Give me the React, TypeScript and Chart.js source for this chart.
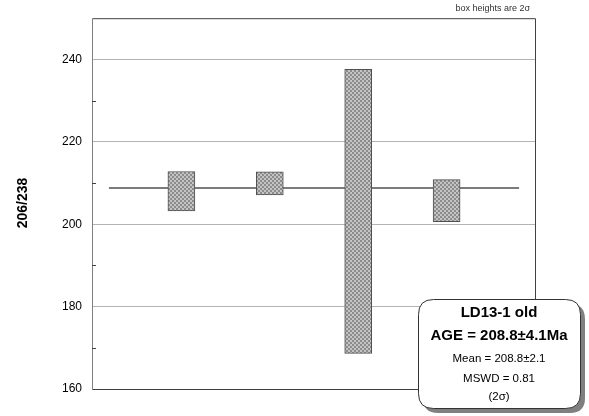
import React, { useEffect, useRef } from "react";
import { Chart, registerables } from "chart.js";

Chart.register(...registerables);

const positions = [1, 2, 3, 4];
const boxLow = [203.25, 207.1, 168.65, 200.6];
const boxHigh = [212.8, 212.7, 237.6, 210.8];
const meanValue = 208.8;
const meanLineX = [0.18, 4.82];
const yMajorTicks = [160, 180, 200, 220, 240];
const yMinorTicks = [170, 190, 210, 230];
const yMin = 160;
const yMax = 250;
const yTitle = "206/238";
const noteText = "box heights are 2σ";
const infoLines = ["LD13-1 old", "AGE = 208.8±4.1Ma", "Mean = 208.8±2.1", "MSWD = 0.81", "(2σ)"];

function makePattern(): CanvasPattern | string {
  const c = document.createElement("canvas");
  c.width = 4;
  c.height = 4;
  const g = c.getContext("2d");
  if (!g) return "#a8a8a8";
  g.fillStyle = "#c4c4c4";
  g.fillRect(0, 0, 4, 4);
  g.fillStyle = "#8c8c8c";
  g.fillRect(0, 0, 2, 2);
  g.fillRect(2, 2, 2, 2);
  const p = g.createPattern(c, "repeat");
  return p || "#a8a8a8";
}

const decorPlugin = {
  id: "decor",
  beforeDatasetsDraw(chart: any) {
    const { ctx, chartArea } = chart;
    const y = chart.scales.y;
    ctx.save();
    ctx.strokeStyle = "#404040";
    ctx.lineWidth = 1;
    ctx.beginPath();
    ctx.moveTo(chartArea.left, chartArea.top + 0.5);
    ctx.lineTo(chartArea.right + 0.5, chartArea.top + 0.5);
    ctx.lineTo(chartArea.right + 0.5, chartArea.bottom);
    ctx.stroke();
    ctx.beginPath();
    ctx.moveTo(chartArea.left, chartArea.bottom + 0.5);
    ctx.lineTo(chartArea.right + 0.5, chartArea.bottom + 0.5);
    ctx.stroke();
    ctx.strokeStyle = "#808080";
    ctx.beginPath();
    ctx.moveTo(chartArea.left - 0.5, chartArea.top);
    ctx.lineTo(chartArea.left - 0.5, chartArea.bottom + 1);
    ctx.stroke();
    ctx.strokeStyle = "#404040";
    yMinorTicks.forEach((v) => {
      const py = Math.round(y.getPixelForValue(v)) + 0.5;
      ctx.beginPath();
      ctx.moveTo(chartArea.left - 1, py);
      ctx.lineTo(chartArea.left + 3, py);
      ctx.stroke();
    });
    ctx.restore();
  },
  afterDraw(chart: any) {
    const { ctx, chartArea } = chart;
    ctx.save();
    ctx.fillStyle = "#000";
    ctx.font = "bold 14px 'Liberation Sans', Arial, sans-serif";
    ctx.textAlign = "center";
    ctx.textBaseline = "middle";
    ctx.translate(23, 203);
    ctx.rotate(-Math.PI / 2);
    ctx.fillText(yTitle, 0, 0);
    ctx.restore();

    ctx.save();
    ctx.fillStyle = "#333";
    ctx.font = "9px 'Liberation Sans', Arial, sans-serif";
    ctx.textAlign = "right";
    ctx.textBaseline = "middle";
    ctx.fillText(noteText, chartArea.right - 5, 9);
    ctx.restore();

    const bx = 418, by = 299, bw = 162, bh = 109, r = 15;
    ctx.save();
    const rr = (x: number, yy: number) => {
      ctx.beginPath();
      ctx.moveTo(x + r, yy);
      ctx.lineTo(x + bw - r, yy);
      ctx.quadraticCurveTo(x + bw, yy, x + bw, yy + r);
      ctx.lineTo(x + bw, yy + bh - r);
      ctx.quadraticCurveTo(x + bw, yy + bh, x + bw - r, yy + bh);
      ctx.lineTo(x + r, yy + bh);
      ctx.quadraticCurveTo(x, yy + bh, x, yy + bh - r);
      ctx.lineTo(x, yy + r);
      ctx.quadraticCurveTo(x, yy, x + r, yy);
      ctx.closePath();
    };
    ctx.fillStyle = "#808080";
    rr(bx + 5, by + 5);
    ctx.fill();
    ctx.fillStyle = "#ffffff";
    rr(bx + 0.5, by + 0.5);
    ctx.fill();
    ctx.strokeStyle = "#333";
    ctx.lineWidth = 1;
    ctx.stroke();
    const cx = bx + bw / 2;
    ctx.fillStyle = "#000";
    ctx.textAlign = "center";
    ctx.textBaseline = "middle";
    ctx.font = "bold 15px 'Liberation Sans', Arial, sans-serif";
    ctx.fillText(infoLines[0], cx, 313);
    ctx.fillText(infoLines[1], cx, 336);
    ctx.font = "11.5px 'Liberation Sans', Arial, sans-serif";
    ctx.fillText(infoLines[2], cx, 359);
    ctx.fillText(infoLines[3], cx, 379);
    ctx.fillText(infoLines[4], cx, 397);
    ctx.restore();
  },
};

export default function App() {
  const ref = useRef<HTMLCanvasElement>(null);
  useEffect(() => {
    if (!ref.current) return;
    const pattern = makePattern();
    const chart = new Chart(ref.current, {
      type: "bar",
      data: {
        datasets: [
          {
            type: "bar",
            data: positions.map((p, i) => ({ x: p, y: [boxLow[i], boxHigh[i]] })) as any,
            backgroundColor: pattern as any,
            borderColor: "#505050",
            borderWidth: 1,
            borderSkipped: false,
            barThickness: 27,
            order: 0,
          } as any,
          {
            type: "line",
            data: meanLineX.map((x) => ({ x, y: meanValue })),
            borderColor: "#505050",
            borderWidth: 1.5,
            pointRadius: 0,
            order: 1,
          } as any,
        ],
      },
      options: {
        responsive: false,
        animation: false,
        events: [],
        layout: { padding: { left: 0, top: 18, right: 54, bottom: 27 } },
        plugins: { legend: { display: false }, tooltip: { enabled: false } },
        scales: {
          x: {
            type: "linear",
            min: 0,
            max: 5,
            display: false,
            offset: false,
          },
          y: {
            min: yMin,
            max: yMax,
            afterBuildTicks: (s: any) => {
              s.ticks = yMajorTicks.map((v) => ({ value: v }));
            },
            afterFit: (s: any) => {
              s.width = 93;
            },
            border: { display: false },
            grid: {
              color: "#b4b4b4",
              lineWidth: 1,
              drawTicks: false,
            },
            ticks: {
              padding: 11,
              color: "#000",
              font: { family: "'Liberation Sans', Arial, sans-serif", size: 12 },
            },
          },
        },
      },
      plugins: [decorPlugin],
    } as any);
    return () => chart.destroy();
  }, []);
  return (
    <div style={{ position: "fixed", left: 0, top: 0, width: 589, height: 416, background: "#fff" }}>
      <canvas ref={ref} width={589} height={416} style={{ width: 589, height: 416 }} />
    </div>
  );
}
